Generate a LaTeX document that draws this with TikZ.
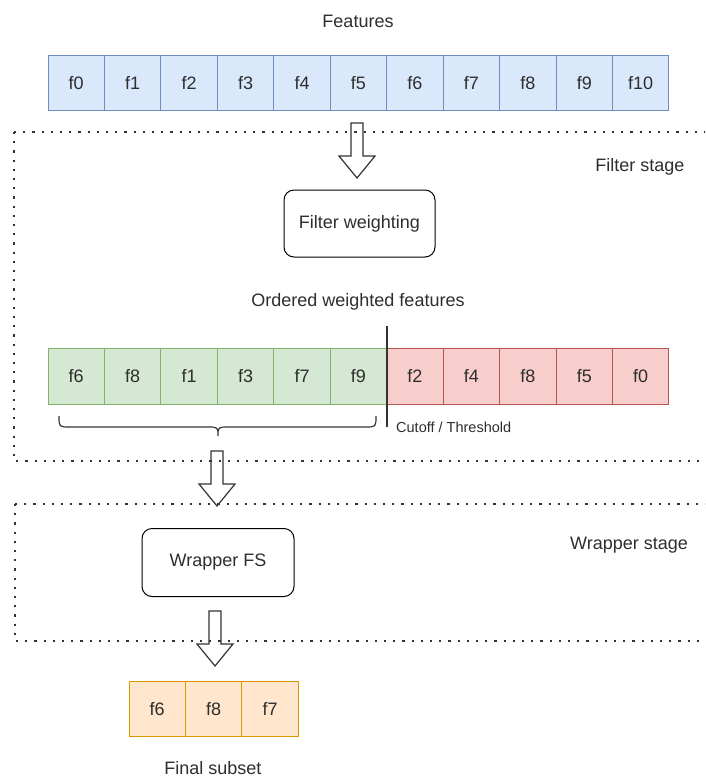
\documentclass[tikz,border=0pt]{standalone}
\usepackage{fontspec}
\setmainfont{Liberation Sans}
\usetikzlibrary{calc}
\definecolor{cBlueF}{HTML}{DAE8FC}
\definecolor{cBlueD}{HTML}{6C8EBF}
\definecolor{cGreenF}{HTML}{D5E8D4}
\definecolor{cGreenD}{HTML}{82B366}
\definecolor{cRedF}{HTML}{F8CECC}
\definecolor{cRedD}{HTML}{B85450}
\definecolor{cOrF}{HTML}{FFE6CC}
\definecolor{cOrD}{HTML}{D79B00}
\definecolor{cTxt}{HTML}{2E2E2E}
\definecolor{cLine}{HTML}{333333}
\tikzset{
  txt/.style={text=cTxt, font=\fontsize{18}{21}\selectfont, inner sep=0pt},
  smalltxt/.style={text=cTxt, font=\fontsize{14.5}{17}\selectfont, inner sep=0pt},
  cell/.style={txt, minimum width=56.45pt, minimum height=55.5pt, anchor=north west, outer sep=0pt, line width=1pt},
  bluecell/.style={cell, fill=cBlueF, draw=cBlueD},
  greencell/.style={cell, fill=cGreenF, draw=cGreenD},
  redcell/.style={cell, fill=cRedF, draw=cRedD},
  orcell/.style={cell, fill=cOrF, draw=cOrD},
  roundbox/.style={txt, draw=black, line width=1pt, rounded corners=10pt, fill=white},
  dotline/.style={draw=cLine, line width=2.2pt, line cap=butt, dash pattern=on 2.2pt off 7pt},
  blockarrow/.style={draw=cLine, line width=1.2pt, line join=miter,
    to path={let \p1=(\tikztostart), \p2=(\tikztotarget) in
      (\x1-6pt,\y1) -- (\x1+6pt,\y1) -- (\x1+6pt,\y2+22pt) -- (\x1+18pt,\y2+22pt)
      -- (\x1,\y2) -- (\x1-18pt,\y2+22pt) -- (\x1-6pt,\y2+22pt) -- cycle}},
  thinline/.style={draw=cLine, line width=1.2pt}
}
\begin{document}
\begin{tikzpicture}[x=1pt, y=-1pt]
\useasboundingbox (0,0) rectangle (705,780);
\clip (0,0) rectangle (705,780);
\fill[white] (0,0) rectangle (705,780);

% stage frames
\draw[dotline] (14,132) -- (720,132);
\draw[dotline] (14,132) -- (14,461) -- (720,461);
\draw[dotline] (15,504) -- (720,504);
\draw[dotline] (15,504) -- (15,641) -- (720,641);

% labels
\node[txt] (featlbl) at (358,21) {Features};
\node[txt] (filtstage) at (640,167) {Filter stage};
\node[txt] (ordlbl) at (358,302) {Ordered weighted features};
\node[txt] (wrapstage) at (629,545) {Wrapper stage};
\node[txt] (finallbl) at (213,768) {Final subset};

% top row
\foreach \lab [count=\i from 0] in {f0,f1,f2,f3,f4,f5,f6,f7,f8,f9,f10}
  \node[bluecell] (t\i) at ({48+56.45*\i},55) {\lab};

% ordered row
\foreach \lab [count=\i from 0] in {f6,f8,f1,f3,f7,f9}
  \node[greencell] (g\i) at ({48+56.45*\i},348.5) {\lab};
\foreach \lab [count=\i from 0] in {f2,f4,f8,f5,f0}
  \node[redcell] (r\i) at ({386.7+56.45*\i},348.5) {\lab};

% final subset
\foreach \lab [count=\i from 0] in {f6,f8,f7}
  \node[orcell] (o\i) at ({129+56.45*\i},681) {\lab};

% boxes
\node[roundbox, minimum width=151pt, minimum height=67pt] (filt) at (359.5,223.5) {Filter weighting};
\node[roundbox, minimum width=152pt, minimum height=68pt] (wrap) at (218,562.5) {Wrapper FS};

% cutoff
\coordinate (cutT) at (387,326);
\coordinate (cutB) at (387,427);
\draw[thinline] (cutT) -- (cutB);
\node[smalltxt, anchor=west] (cutlbl) at (396,427.5) {Cutoff / Threshold};

% brace
\coordinate (brL) at (59,416);
\coordinate (brM) at (218,436);
\coordinate (brR) at (376,416);
\draw[thinline] (brL) .. controls (59,427) .. (70,427) -- (207,427)
  .. controls (218,427) .. (brM) .. controls (218,427) .. (229,427)
  -- (365,427) .. controls (376,427) .. (brR);

% block arrows
\coordinate (a1s) at (357,123);
\coordinate (a1e) at (357,178);
\coordinate (a2s) at (217,451);
\coordinate (a2e) at (217,506);
\coordinate (a3s) at (215,611);
\coordinate (a3e) at (215,666);
\draw[blockarrow] (a1s) to (a1e);
\draw[blockarrow] (a2s) to (a2e);
\draw[blockarrow] (a3s) to (a3e);
\end{tikzpicture}
\end{document}
